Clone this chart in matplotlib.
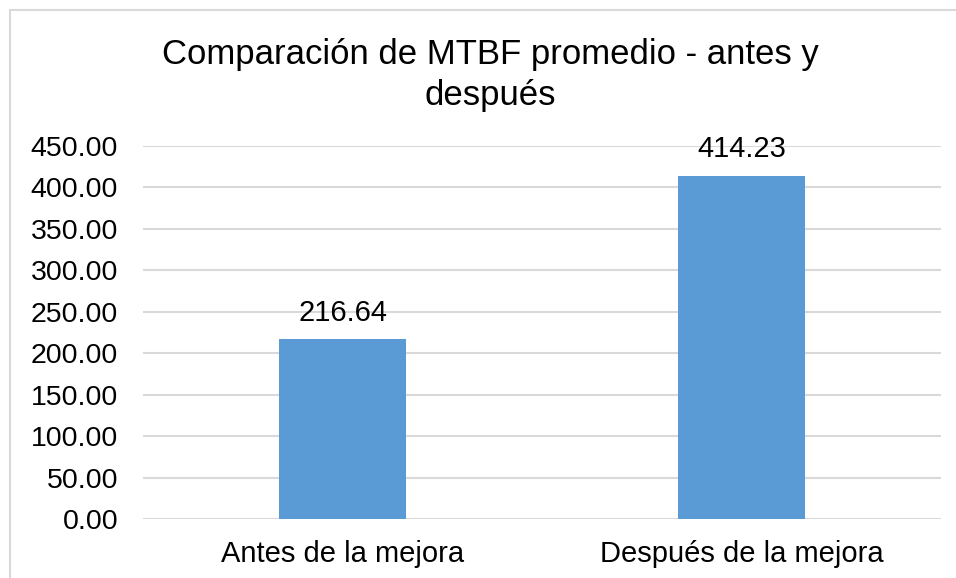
import matplotlib
matplotlib.use("Agg")
import matplotlib.pyplot as plt
from matplotlib.patches import Rectangle

# data
categories = ["Antes de la mejora", "Después de la mejora"]
mtbf = [216.64, 414.23]
yticks = [0, 50, 100, 150, 200, 250, 300, 350, 400, 450]

plt.rcParams['font.family'] = ['Liberation Sans', 'DejaVu Sans']

W, H = 956, 578
fig = plt.figure(figsize=(W / 100, H / 100), dpi=100)
ax = fig.add_axes([143 / W, (H - 519) / H, (941 - 143) / W, (519 - 146) / H])

# chart border (cropped on right/bottom like the original)
fig.patches.append(Rectangle((10 / W, -0.05), 1.2, 1 - 10 / H + 0.05,
                             transform=fig.transFigure, fill=False,
                             edgecolor='#D9D9D9', linewidth=1.5))

x = range(len(categories))
bars = ax.bar(x, mtbf, width=0.316, color='#5B9BD5', zorder=3)

for rect, v in zip(bars, mtbf):
    ax.annotate(f"{v:.2f}", (rect.get_x() + rect.get_width() / 2, v),
                xytext=(0, 9), textcoords='offset points',
                ha='center', va='bottom', fontsize=21)

ax.set_xlim(-0.5, 1.5)
ax.set_ylim(0, 450)
ax.set_yticks(yticks)
ax.set_yticklabels([f"{t:.2f}" for t in yticks])
ax.set_xticks(list(x))
ax.set_xticklabels(categories)
ax.tick_params(axis='y', length=0, pad=18, labelsize=20.5)
ax.tick_params(axis='x', length=0, pad=15, labelsize=21)
ax.grid(axis='y', color='#D9D9D9', linewidth=1.5, zorder=0)
for s in ax.spines.values():
    s.set_visible(False)

fig.text(490 / W, 1 - 38 / H, "Comparación de MTBF promedio - antes y\ndespués",
         ha='center', va='top', fontsize=25, linespacing=1.3)

fig.savefig("out.png", dpi=100)
